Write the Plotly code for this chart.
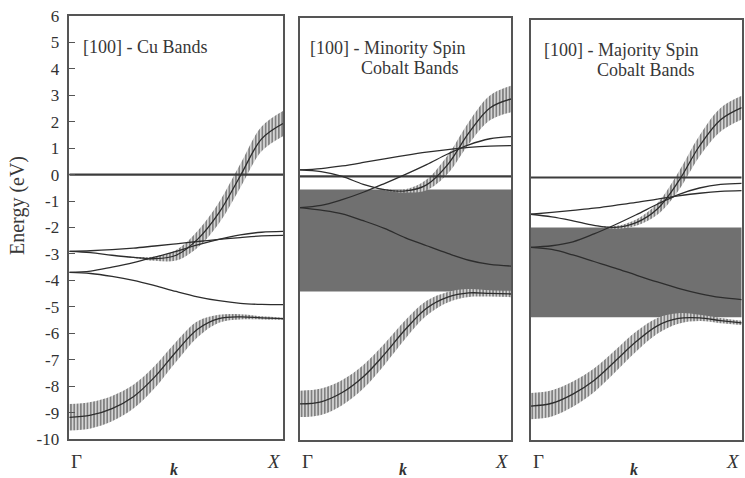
import plotly.graph_objects as go

# ---------------- data ----------------
k = [0.0, 0.1, 0.2, 0.3, 0.4, 0.5, 0.6, 0.7, 0.8, 0.9, 1.0]

# Cu bands
cu_s      = [-9.18, -9.10, -8.85, -8.40, -7.65, -6.70, -5.85, -5.45, -5.38, -5.42, -5.45]
cu_s_w    = [0.50, 0.50, 0.48, 0.45, 0.42, 0.38, 0.30, 0.15, 0.10, 0.06, 0.04]
cu_d1     = [-2.90, -2.95, -3.05, -3.13, -3.18, -3.05, -2.45, -1.45, -0.05, 1.35, 1.93]
cu_d1_w   = [0.0, 0.0, 0.0, 0.02, 0.08, 0.20, 0.32, 0.40, 0.45, 0.47, 0.48]
cu_d2     = [-2.90, -2.88, -2.84, -2.78, -2.70, -2.62, -2.53, -2.45, -2.38, -2.32, -2.30]
cu_d3     = [-3.70, -3.65, -3.50, -3.33, -3.12, -2.90, -2.66, -2.45, -2.28, -2.18, -2.15]
cu_d4     = [-3.70, -3.74, -3.85, -4.00, -4.20, -4.42, -4.62, -4.77, -4.87, -4.91, -4.92]

# Minority spin cobalt bands
mi_s      = [-8.63, -8.55, -8.20, -7.60, -6.75, -5.80, -5.00, -4.58, -4.42, -4.44, -4.46]
mi_s_w    = [0.50, 0.50, 0.48, 0.45, 0.40, 0.35, 0.28, 0.20, 0.15, 0.12, 0.12]
mi_d1     = [0.25, 0.18, 0.00, -0.30, -0.50, -0.55, -0.32, 0.45, 1.65, 2.60, 2.94]
mi_d1_w   = [0.0, 0.0, 0.0, 0.0, 0.02, 0.06, 0.20, 0.35, 0.42, 0.47, 0.50]
mi_d2     = [0.25, 0.30, 0.40, 0.53, 0.67, 0.80, 0.92, 1.02, 1.10, 1.15, 1.17]
mi_d3     = [-1.18, -1.10, -0.88, -0.60, -0.27, 0.08, 0.45, 0.85, 1.20, 1.43, 1.51]
mi_d4     = [-1.18, -1.28, -1.42, -1.68, -1.97, -2.33, -2.63, -2.92, -3.18, -3.34, -3.40]
mi_gap    = [-4.37, -0.50]

# Majority spin cobalt bands
ma_s      = [-8.71, -8.60, -8.25, -7.73, -7.00, -6.25, -5.65, -5.37, -5.35, -5.45, -5.54]
ma_s_w    = [0.50, 0.50, 0.48, 0.45, 0.42, 0.38, 0.30, 0.20, 0.12, 0.10, 0.08]
ma_d1     = [-1.40, -1.50, -1.65, -1.82, -1.90, -1.72, -1.20, -0.15, 1.20, 2.20, 2.66]
ma_d1_w   = [0.0, 0.0, 0.0, 0.0, 0.05, 0.12, 0.22, 0.35, 0.40, 0.45, 0.45]
ma_d2     = [-1.40, -1.33, -1.25, -1.17, -1.06, -0.95, -0.82, -0.70, -0.60, -0.53, -0.50]
ma_d3     = [-2.66, -2.60, -2.45, -2.15, -1.80, -1.42, -1.02, -0.65, -0.40, -0.26, -0.22]
ma_d4     = [-2.66, -2.74, -2.95, -3.20, -3.45, -3.72, -3.98, -4.22, -4.42, -4.57, -4.65]
ma_gap    = [-5.32, -1.90]

fermi = [0.0, 0.0]
fermi_k = [0.0, 1.0]

panel_titles = [["[100] - Cu Bands"],
                ["[100] - Minority Spin", "Cobalt Bands"],
                ["[100] - Majority Spin", "Cobalt Bands"]]
y_ticks = list(range(-10, 7))

# ---------------- styling ----------------
FONT = "Liberation Serif, Times New Roman, serif"
LINE_C = "rgb(45,45,45)"
FRAME_C = "rgb(85,85,85)"
GAP_C = "rgb(112,112,112)"

panels = [
    dict(hatched=[(cu_s, cu_s_w), (cu_d1, cu_d1_w)], plain=[cu_d2, cu_d3, cu_d4], gap=None),
    dict(hatched=[(mi_s, mi_s_w), (mi_d1, mi_d1_w)], plain=[mi_d2, mi_d3, mi_d4], gap=mi_gap),
    dict(hatched=[(ma_s, ma_s_w), (ma_d1, ma_d1_w)], plain=[ma_d2, ma_d3, ma_d4], gap=ma_gap),
]

# layout geometry (paper fractions)
ML, MR, MT, MB = 69, 3, 16, 38
W, H = 745, 478
PW, PH = W - ML - MR, H - MT - MB
x_dom_px = [(69.3, 283.0), (300.0, 511.0), (530.7, 741.7)]
y_dom_px = [(16.0, 439.0), (18.3, 440.0), (20.0, 440.0)]


def xp(px):
    return (px - ML) / PW


def yp(py):
    return (H - MB - py) / PH


def clamp(v):
    return min(max(v, 0.0), 1.0)


fig = go.Figure()
shapes = []
annotations = []

for i, p in enumerate(panels):
    xa = "x" if i == 0 else f"x{i+1}"
    ya = "y" if i == 0 else f"y{i+1}"
    if p["gap"] is not None:
        shapes.append(dict(type="rect", xref=xa, yref=ya, x0=0, x1=1,
                           y0=p["gap"][0], y1=p["gap"][1],
                           fillcolor=GAP_C, line=dict(width=0), layer="below"))
    # hatched (uncertainty) bands
    for e, w in p["hatched"]:
        lo = [a - b for a, b in zip(e, w)]
        hi = [a + b for a, b in zip(e, w)]
        fig.add_trace(go.Scatter(x=k, y=lo, mode="lines", line=dict(width=0, shape="spline"),
                                 xaxis=xa, yaxis=ya, showlegend=False, hoverinfo="skip"))
        fig.add_trace(go.Scatter(x=k, y=hi, mode="lines", line=dict(width=0, shape="spline"),
                                 fill="tonexty", fillcolor="rgba(0,0,0,0)",
                                 fillpattern=dict(shape="|", size=3.3, solidity=0.33,
                                                  fgcolor="rgb(85,85,85)",
                                                  bgcolor="rgb(212,212,212)",
                                                  fillmode="replace"),
                                 xaxis=xa, yaxis=ya, showlegend=False, hoverinfo="skip"))
    # fermi level
    fig.add_trace(go.Scatter(x=fermi_k, y=fermi, mode="lines",
                             line=dict(color="rgb(60,60,60)", width=2.2),
                             xaxis=xa, yaxis=ya, showlegend=False, hoverinfo="skip"))
    # band lines
    for e, _ in p["hatched"]:
        fig.add_trace(go.Scatter(x=k, y=e, mode="lines",
                                 line=dict(color=LINE_C, width=1.3, shape="spline"),
                                 xaxis=xa, yaxis=ya, showlegend=False))
    for e in p["plain"]:
        fig.add_trace(go.Scatter(x=k, y=e, mode="lines",
                                 line=dict(color=LINE_C, width=1.3, shape="spline"),
                                 xaxis=xa, yaxis=ya, showlegend=False))

layout = dict(
    width=W, height=H,
    margin=dict(l=ML, r=MR, t=MT, b=MB),
    paper_bgcolor="white", plot_bgcolor="white",
    font=dict(family=FONT, color="rgb(60,60,60)"),
    showlegend=False,
)

TXT_C = "rgb(55,55,55)"
for i in range(3):
    xkey = "xaxis" if i == 0 else f"xaxis{i+1}"
    ykey = "yaxis" if i == 0 else f"yaxis{i+1}"
    xa_ref = "x" if i == 0 else f"x{i+1}"
    ya_ref = "y" if i == 0 else f"y{i+1}"
    layout[xkey] = dict(domain=[clamp(xp(x_dom_px[i][0])), clamp(xp(x_dom_px[i][1]))], range=[0, 1],
                        anchor=ya_ref, showgrid=False, zeroline=False,
                        showline=True, mirror=True, linecolor=FRAME_C, linewidth=1.5,
                        showticklabels=False, ticks="")
    yax = dict(domain=[clamp(yp(y_dom_px[i][1])), clamp(yp(y_dom_px[i][0]))], range=[-10, 6],
               anchor=xa_ref, showgrid=False, zeroline=False,
               showline=True, mirror=True, linecolor=FRAME_C, linewidth=1.5)
    if i == 0:
        yax.update(tickmode="array", tickvals=y_ticks, ticktext=[str(t) for t in y_ticks],
                   ticks="inside", ticklen=6, tickcolor=FRAME_C, tickwidth=1,
                   tickfont=dict(family=FONT, size=17, color="rgb(50,50,50)"),
                   ticklabelstandoff=5)
    else:
        yax.update(showticklabels=False, ticks="")
    layout[ykey] = yax

    # panel title(s)
    title_lines = panel_titles[i]
    left_px = [81, 308, 541.7][i]
    if len(title_lines) == 1:
        annotations.append(dict(text=title_lines[0], xref="paper", yref="paper",
                                x=xp(left_px), y=yp(47), xanchor="left", yanchor="middle",
                                showarrow=False, font=dict(family=FONT, size=18, color=TXT_C)))
    else:
        top_py = [48, 50][i - 1]
        right2 = [461, 696.7][i - 1]
        annotations.append(dict(text=title_lines[0], xref="paper", yref="paper",
                                x=xp(left_px), y=yp(top_py), xanchor="left", yanchor="middle",
                                showarrow=False, font=dict(family=FONT, size=18, color=TXT_C)))
        annotations.append(dict(text=title_lines[1], xref="paper", yref="paper",
                                x=xp(right2), y=yp(top_py + 20), xanchor="right", yanchor="middle",
                                showarrow=False, font=dict(family=FONT, size=18, color=TXT_C)))

    # k-axis labels
    annotations.append(dict(text="Γ", xref=xa_ref, yref="paper", x=0, y=yp(461.5),
                            xanchor="left", yanchor="middle", xshift=0, showarrow=False,
                            font=dict(family=FONT, size=19, color="rgb(50,50,50)")))
    annotations.append(dict(text="<i>X</i>", xref=xa_ref, yref="paper", x=1, y=yp(461.5),
                            xanchor="right", yanchor="middle", xshift=0, showarrow=False,
                            font=dict(family=FONT, size=19, color="rgb(50,50,50)")))
    annotations.append(dict(text="<b><i>k</i></b>", xref=xa_ref, yref="paper", x=0.49, y=yp(469),
                            xanchor="center", yanchor="middle", showarrow=False,
                            font=dict(family=FONT, size=16, color="rgb(50,50,50)")))

# y-axis title
annotations.append(dict(text="Energy (eV)", xref="paper", yref="paper",
                        x=xp(18), y=yp(206), textangle=-90,
                        xanchor="center", yanchor="middle", showarrow=False,
                        font=dict(family=FONT, size=20, color=TXT_C)))

layout["shapes"] = shapes
layout["annotations"] = annotations
fig.update_layout(**layout)

fig.write_html("out.html", config={"displayModeBar": False},
               post_script="document.body.style.margin='0';document.body.style.padding='0';")
